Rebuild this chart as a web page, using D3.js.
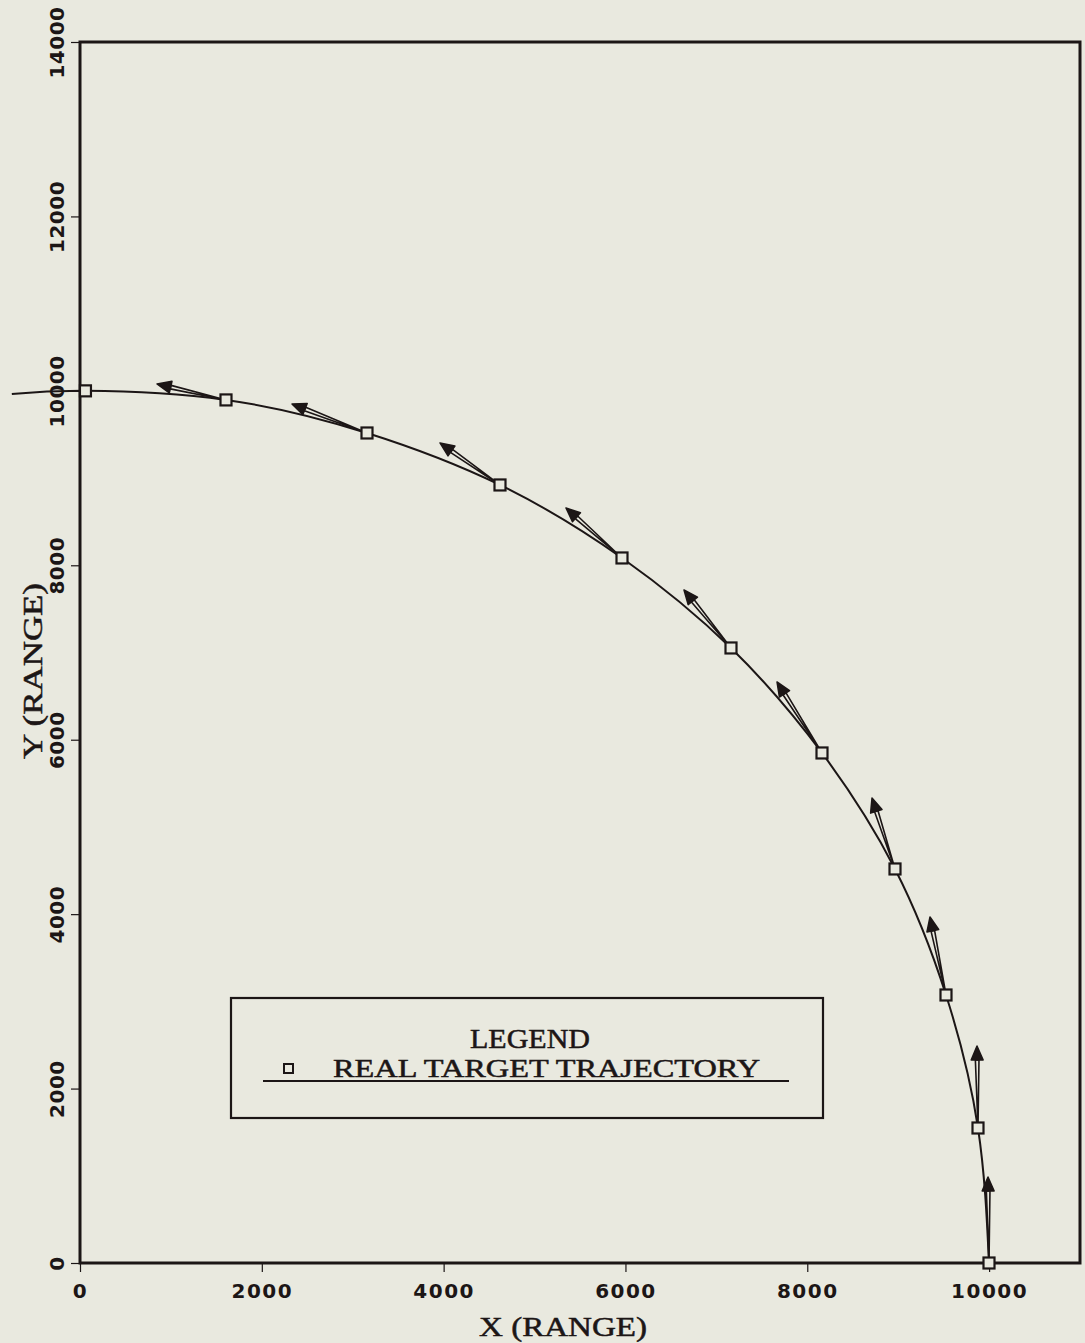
<!DOCTYPE html>
<html>
<head>
<meta charset="utf-8">
<script src="https://cdn.jsdelivr.net/npm/d3@7"></script>
<style>
  html, body { margin: 0; padding: 0; background: #e9e9df; }
  svg { display: block; }
</style>
</head>
<body>
<svg id="chart" width="1085" height="1343"></svg>
<script>
// ---- data ----
const xTicks = [0, 2000, 4000, 6000, 8000, 10000];
const yTicks = [0, 2000, 4000, 6000, 8000, 10000, 12000, 14000];

// real target trajectory sample points (squares)
const targetX = [60, 1606, 3157, 4620, 5962, 7161, 8162, 8965, 9526, 9878, 9999];
const targetY = [10000, 9896, 9517, 8921, 8084, 7052, 5848, 4518, 3073, 1548, 0];

// the drawn trajectory line starts a little left of the y axis
const lineStartX = [-750];
const lineStartY = [9965];

// velocity arrows: tail at targets 2..11, tips below
const arrowFrom = [1, 2, 3, 4, 5, 6, 7, 8, 9, 10];
const arrowTipX = [847, 2332, 3960, 5346, 6644, 7667, 8712, 9350, 9867, 9988];
const arrowTipY = [10079, 9850, 9403, 8657, 7717, 6662, 5332, 3967, 2488, 986];

const xTitle = "X (RANGE)";
const yTitle = "Y (RANGE)";
const legendTitle = "LEGEND";
const legendLabel = "REAL TARGET TRAJECTORY";

// ---- layout ----
const ink = "#1c1616";
const bg = "#e9e9df";
const svg = d3.select("#chart");
const L = 80, R = 1080, T = 42, B = 1263;

const x = d3.scaleLinear().domain([0, 11000]).range([L, R]);
const y = d3.scaleLinear().domain([0, 14000]).range([B, T]);

svg.append("rect").attr("width", 1085).attr("height", 1343).attr("fill", bg);

// axes
const gx = svg.append("g").attr("transform", `translate(0,${B})`)
  .call(d3.axisBottom(x).tickValues(xTicks).tickSize(9).tickFormat(d3.format("d")));
gx.select(".domain").remove();
gx.selectAll(".tick line").attr("stroke", ink).attr("stroke-width", 1.2);
gx.selectAll(".tick text")
  .attr("y", 35).attr("dy", 0)
  .attr("fill", ink)
  .style("font-family", "'DejaVu Sans', sans-serif")
  .style("font-weight", "bold")
  .style("font-size", "20px")
  .style("letter-spacing", "1.5px");

const gy = svg.append("g").attr("transform", `translate(${L},0)`)
  .call(d3.axisLeft(y).tickValues(yTicks).tickSize(9).tickFormat(d3.format("d")));
gy.select(".domain").remove();
gy.selectAll(".tick line").attr("stroke", ink).attr("stroke-width", 1.2);
gy.selectAll(".tick text")
  .attr("transform", "rotate(-90)")
  .attr("x", 0).attr("y", -16).attr("dy", 0)
  .attr("text-anchor", "middle")
  .attr("fill", ink)
  .style("font-family", "'DejaVu Sans', sans-serif")
  .style("font-weight", "bold")
  .style("font-size", "20px")
  .style("letter-spacing", "0.5px");

// frame
svg.append("path")
  .attr("d", `M${L},${B}L${L},${T}L${R},${T}L${R},${B}Z`)
  .attr("fill", "none").attr("stroke", ink).attr("stroke-width", 3);

// axis titles
svg.append("text")
  .attr("x", 563).attr("y", 1336)
  .attr("text-anchor", "middle")
  .attr("textLength", 168).attr("lengthAdjust", "spacingAndGlyphs")
  .attr("fill", ink).attr("stroke", ink).attr("stroke-width", 0.5)
  .style("font-family", "'Liberation Serif', serif")
  .style("font-size", "27px")
  .text(xTitle);

svg.append("text")
  .attr("transform", `translate(42,671) rotate(-90)`)
  .attr("text-anchor", "middle")
  .attr("textLength", 176).attr("lengthAdjust", "spacingAndGlyphs")
  .attr("fill", ink).attr("stroke", ink).attr("stroke-width", 0.5)
  .style("font-family", "'Liberation Serif', serif")
  .style("font-size", "28px")
  .text(yTitle);

// trajectory line
const linePts = lineStartX.map((d, i) => [d, lineStartY[i]])
  .concat(targetX.map((d, i) => [d, targetY[i]]));
const line = d3.line().x(d => x(d[0])).y(d => y(d[1])).curve(d3.curveNatural);
svg.append("path")
  .attr("d", line(linePts))
  .attr("fill", "none").attr("stroke", ink).attr("stroke-width", 2);

// arrows
const arrows = arrowFrom.map((k, i) => ({
  tx: x(targetX[k]), ty: y(targetY[k]),
  px: x(arrowTipX[i]), py: y(arrowTipY[i])
}));
const ga = svg.append("g");
arrows.forEach(a => {
  const dx = a.px - a.tx, dy = a.py - a.ty;
  const len = Math.hypot(dx, dy);
  const ux = dx / len, uy = dy / len;
  const nx = -uy, ny = ux;
  const h = 14, w = 6, s = 1.8;
  const bx = a.px - ux * h, by = a.py - uy * h;
  ga.append("path")
    .attr("d", `M${a.tx},${a.ty}L${bx + nx * s},${by + ny * s}L${bx - nx * s},${by - ny * s}Z`)
    .attr("fill", "none").attr("stroke", ink).attr("stroke-width", 1.6)
    .attr("stroke-linejoin", "round");
  ga.append("path")
    .attr("d", `M${a.px},${a.py}L${bx + nx * w},${by + ny * w}L${bx - nx * w},${by - ny * w}Z`)
    .attr("fill", ink).attr("stroke", ink).attr("stroke-width", 1.5)
    .attr("stroke-linejoin", "round");
});

// square markers
const sq = 11;
svg.append("g").selectAll("rect")
  .data(targetX.map((d, i) => [d, targetY[i]]))
  .join("rect")
  .attr("x", d => x(d[0]) - sq / 2)
  .attr("y", d => y(d[1]) - sq / 2)
  .attr("width", sq).attr("height", sq)
  .attr("fill", bg).attr("stroke", ink).attr("stroke-width", 2.2);

// legend
const lg = svg.append("g");
lg.append("rect")
  .attr("x", 231).attr("y", 998).attr("width", 592).attr("height", 120)
  .attr("fill", "none").attr("stroke", ink).attr("stroke-width", 2.2);
lg.append("text")
  .attr("x", 530).attr("y", 1048)
  .attr("text-anchor", "middle")
  .attr("fill", ink).attr("stroke", ink).attr("stroke-width", 0.5)
  .style("font-family", "'Liberation Serif', serif")
  .style("font-size", "27px")
  .attr("textLength", 120).attr("lengthAdjust", "spacingAndGlyphs")
  .text(legendTitle);
lg.append("text")
  .attr("x", 333).attr("y", 1077)
  .attr("textLength", 427).attr("lengthAdjust", "spacingAndGlyphs")
  .attr("fill", ink).attr("stroke", ink).attr("stroke-width", 0.5)
  .style("font-family", "'Liberation Serif', serif")
  .style("font-size", "25px")
  .text(legendLabel);
lg.append("rect")
  .attr("x", 284).attr("y", 1064).attr("width", 9).attr("height", 9)
  .attr("fill", "none").attr("stroke", ink).attr("stroke-width", 2);
lg.append("line")
  .attr("x1", 263).attr("x2", 789).attr("y1", 1081).attr("y2", 1081)
  .attr("stroke", ink).attr("stroke-width", 1.8);
</script>
</body>
</html>
